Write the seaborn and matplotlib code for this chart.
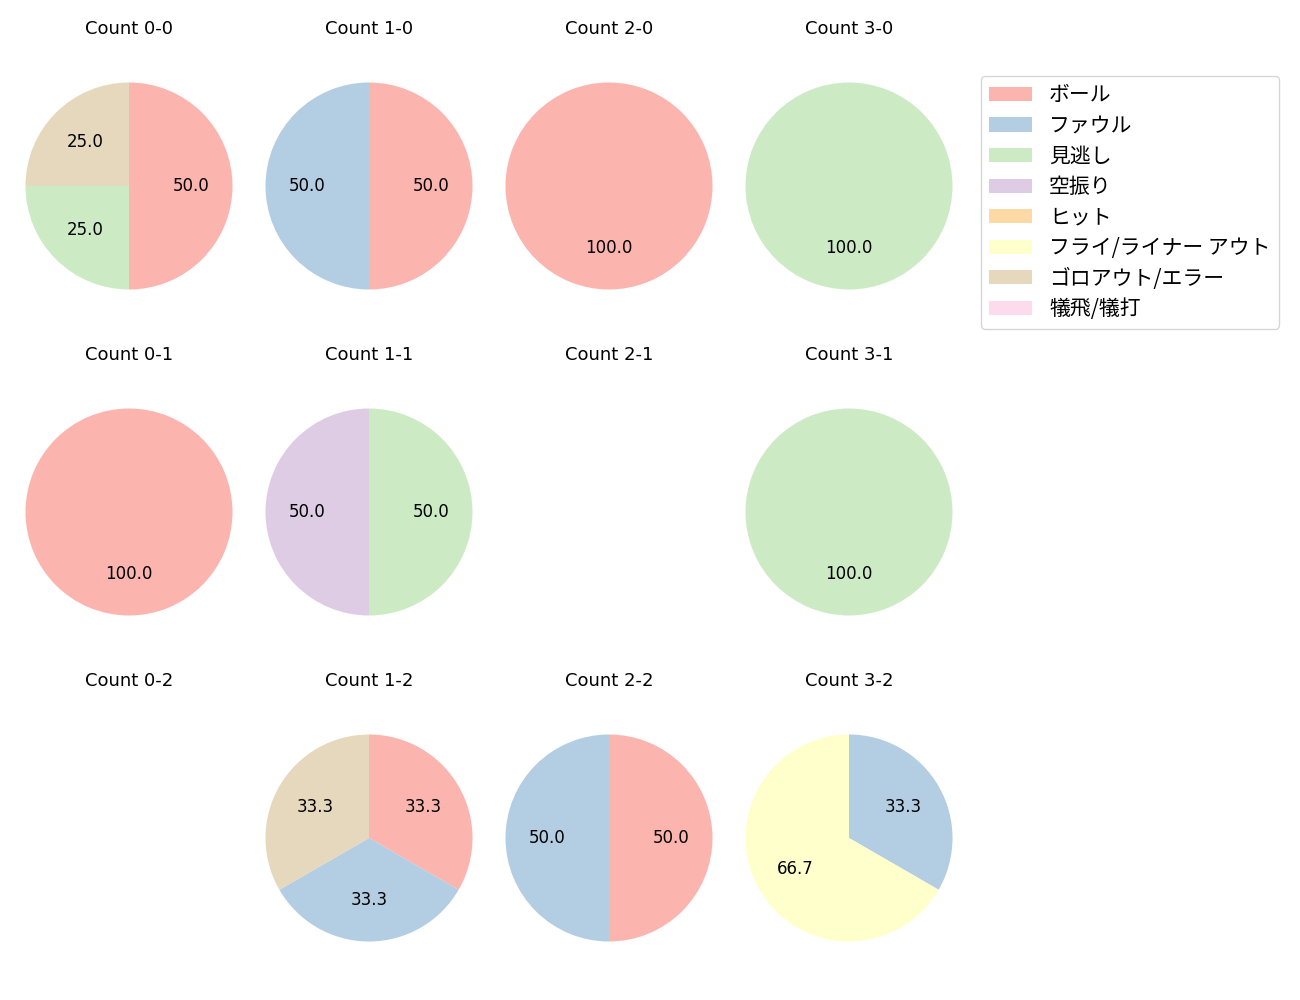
import matplotlib
matplotlib.use("Agg")
import matplotlib.pyplot as plt
import seaborn as sns
from matplotlib.patches import Patch

sns.set_theme(style="white")
plt.rcParams['font.family'] = ['DejaVu Sans', 'Noto Sans CJK JP']
plt.rcParams['text.color'] = 'black'

categories = ["ボール", "ファウル", "見逃し", "空振り", "ヒット",
              "フライ/ライナー アウト", "ゴロアウト/エラー", "犠飛/犠打"]
colors = sns.color_palette("Pastel1", 9)[:8]

counts = ["0-0", "1-0", "2-0", "3-0",
          "0-1", "1-1", "2-1", "3-1",
          "0-2", "1-2", "2-2", "3-2"]

# values per count, ordered as categories
v_00 = [2, 0, 1, 0, 0, 0, 1, 0]
v_10 = [1, 1, 0, 0, 0, 0, 0, 0]
v_20 = [1, 0, 0, 0, 0, 0, 0, 0]
v_30 = [0, 0, 1, 0, 0, 0, 0, 0]
v_01 = [1, 0, 0, 0, 0, 0, 0, 0]
v_11 = [0, 0, 1, 1, 0, 0, 0, 0]
v_21 = [0, 0, 0, 0, 0, 0, 0, 0]
v_31 = [0, 0, 1, 0, 0, 0, 0, 0]
v_02 = [0, 0, 0, 0, 0, 0, 0, 0]
v_12 = [1, 1, 0, 0, 0, 0, 1, 0]
v_22 = [1, 1, 0, 0, 0, 0, 0, 0]
v_32 = [0, 1, 0, 0, 0, 2, 0, 0]
values = [v_00, v_10, v_20, v_30, v_01, v_11, v_21, v_31, v_02, v_12, v_22, v_32]

W, H = 1300, 1000
fig = plt.figure(figsize=(13, 10), dpi=100)

R = 103.5          # pie radius in px
L = 1.25           # axis half-limit in data units
S = 2 * R * L      # axes size px
col_cx = [129, 369, 609, 849]
row_cy = [186, 512, 838]

for i, (cnt, vals) in enumerate(zip(counts, values)):
    r, c = divmod(i, 4)
    cx, cy = col_cx[c], row_cy[r]
    ax = fig.add_axes([(cx - S / 2) / W, 1 - (cy + S / 2) / H, S / W, S / H])
    nz = [(v, col) for v, col in zip(vals, colors) if v > 0]
    if nz:
        ax.pie([v for v, _ in nz], colors=[col for _, col in nz],
               startangle=90, counterclock=False, autopct="%.1f",
               textprops={"fontsize": 12, "color": "black"},
               wedgeprops={"linewidth": 0})
    ax.set_xlim(-L, L)
    ax.set_ylim(-L, L)
    ax.set_aspect("equal")
    ax.axis("off")
    fig.text(cx / W, 1 - (cy - 157) / H, f"Count {cnt}", ha="center", va="center",
             fontsize=13, color="black")

handles = [Patch(facecolor=col, label=lab, linewidth=0) for col, lab in zip(colors, categories)]
fig.legend(handles=handles, loc="upper left", bbox_to_anchor=(981 / W, 1 - 76 / H),
           borderaxespad=0, frameon=True, handlelength=2.05, handleheight=0.67,
           handletextpad=0.82, labelspacing=0.41, borderpad=0.4,
           labelcolor="black",
           prop={"family": ["Noto Sans CJK JP", "DejaVu Sans"], "size": 15})

fig.savefig("out.png", dpi=100)
